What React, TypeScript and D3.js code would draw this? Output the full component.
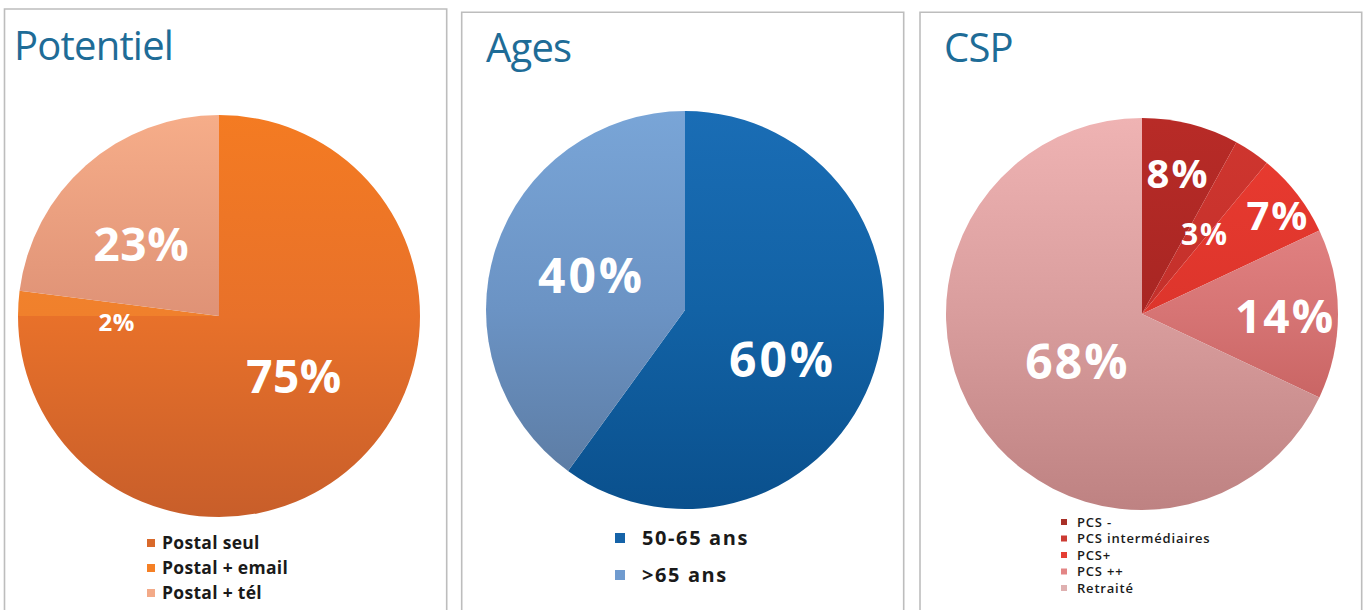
import React from "react";
import * as d3 from "d3";

// ---------- DATA ----------
const potentielCategories = ["Postal seul", "Postal + email", "Postal + tél"];
const potentielValues = [75, 2, 23];

const agesCategories = ["50-65 ans", ">65 ans"];
const agesValues = [60, 40];

const cspCategories = ["PCS -", "PCS intermédiaires", "PCS+", "PCS ++", "Retraité"];
const cspValues = [8, 3, 7, 14, 68];

const titles = ["Potentiel", "Ages", "CSP"];

// ---------- STYLE / LAYOUT ----------
type ChartCfg = {
  id: string;
  title: string;
  categories: string[];
  values: number[];
  panel: { x0: number; x1: number; y0: number };
  titlePos: { x: number; y: number };
  cx: number;
  cy: number;
  r: number;
  gradTop: string[];
  gradMid: string[];
  gradBottom: string[];
  swatch: string[];
  labelR: number[];
  labelShift: number[];
  labelSize: number[];
  labelSpacing: number;
  legend: { x: number; y: number; dy: number; box: number; textDx: number; size: number; weight: number; spacing: number };
};

const charts: ChartCfg[] = [
  {
    id: "pot",
    title: titles[0],
    categories: potentielCategories,
    values: potentielValues,
    panel: { x0: 4.5, x1: 446.7, y0: 9 },
    titlePos: { x: 14, y: 60 },
    cx: 219,
    cy: 316,
    r: 201,
    gradTop: ["#f47b22", "#f6892c", "#f6ad89"],
    gradMid: ["#e8712a", "#f0802c", "#df9276"],
    gradBottom: ["#c85e2a", "#d8682a", "#c87a5e"],
    swatch: ["#d9692b", "#f58025", "#f3aa88"],
    labelR: [0.48, 0.51, 0.525],
    labelShift: [-6, -7, -6],
    labelSize: [46, 24, 46],
    labelSpacing: 0.5,
    legend: { x: 147, y: 543, dy: 25, box: 8, textDx: 15, size: 17.5, weight: 700, spacing: 0.3 },
  },
  {
    id: "age",
    title: titles[1],
    categories: agesCategories,
    values: agesValues,
    panel: { x0: 461.7, x1: 903.7, y0: 12.3 },
    titlePos: { x: 486, y: 62 },
    cx: 685,
    cy: 310,
    r: 199,
    gradTop: ["#1a6db5", "#79a5d7"],
    gradMid: ["#1262a5", "#6b93c4"],
    gradBottom: ["#0a508d", "#5a789e"],
    swatch: ["#1563a8", "#709bcf"],
    labelR: [0.55, 0.5],
    labelShift: [9, 2],
    labelSize: [48, 48],
    labelSpacing: 3,
    legend: { x: 615, y: 538, dy: 37, box: 10, textDx: 27, size: 20, weight: 700, spacing: 1.6 },
  },
  {
    id: "csp",
    title: titles[2],
    categories: cspCategories,
    values: cspValues,
    panel: { x0: 920, x1: 1361.7, y0: 12.3 },
    titlePos: { x: 944, y: 62 },
    cx: 1142,
    cy: 314,
    r: 196,
    gradTop: ["#b82b27", "#d0362f", "#ea3b30", "#ee9292", "#efb3b3"],
    gradMid: ["#a82623", "#c3302b", "#dd352c", "#d67474", "#d99d9d"],
    gradBottom: ["#952120", "#ad2a26", "#c62e27", "#b9514f", "#be8282"],
    swatch: ["#a83028", "#cc3b33", "#e53e33", "#e38585", "#dfb0b0"],
    labelR: [0.74, 0.52, 0.855, 0.73, 0.41],
    labelShift: [0, 4, 2, 1, -4],
    labelSize: [40, 30, 40, 46, 48],
    labelSpacing: 2,
    legend: { x: 1061, y: 522, dy: 16.5, box: 6, textDx: 16, size: 13, weight: 600, spacing: 0.8 },
  },
];

const FONT = "'Open Sans', 'Noto Sans', sans-serif";

function Pie({ c }: { c: ChartCfg }) {
  const pie = d3
    .pie<number>()
    .sort(null)
    .value((d) => d)
    .startAngle(0)
    .endAngle(2 * Math.PI);
  const arcs = pie(c.values);
  const arc = d3.arc<d3.PieArcDatum<number>>().innerRadius(0).outerRadius(c.r);
  const total = d3.sum(c.values);
  const fmt = (v: number) => `${Math.round((v / total) * 100)}%`;

  return (
    <g>
      <defs>
        {arcs.map((a, i) => (
          <linearGradient
            key={i}
            id={`${c.id}-g${i}`}
            gradientUnits="userSpaceOnUse"
            x1={0}
            x2={0}
            y1={-c.r}
            y2={c.r}
          >
            <stop offset="0" stopColor={c.gradTop[i]} />
            <stop offset="0.5" stopColor={c.gradMid[i]} />
            <stop offset="1" stopColor={c.gradBottom[i]} />
          </linearGradient>
        ))}
      </defs>
      {/* panel */}
      <path
        d={`M${c.panel.x0},700 L${c.panel.x0},${c.panel.y0} L${c.panel.x1},${c.panel.y0} L${c.panel.x1},700`}
        fill="none"
        stroke="#bdbdbd"
        strokeWidth={1.6}
      />
      <text
        x={c.titlePos.x}
        y={c.titlePos.y}
        fontFamily={FONT}
        fontSize={40}
        fill="#1e6c97"
        letterSpacing={-0.8}
      >
        {c.title}
      </text>
      <g transform={`translate(${c.cx},${c.cy})`}>
        {arcs.map((a, i) => (
          <path key={i} d={arc(a) || ""} fill={`url(#${c.id}-g${i})`} />
        ))}
        {arcs.map((a, i) => {
          const mid = (a.startAngle + a.endAngle) / 2 + (c.labelShift[i] * Math.PI) / 180;
          const rr = c.r * c.labelR[i];
          const x = Math.sin(mid) * rr;
          const y = -Math.cos(mid) * rr;
          return (
            <text
              key={`l${i}`}
              x={x}
              y={y}
              dy="0.36em"
              textAnchor="middle"
              fontFamily={FONT}
              fontWeight={700}
              fontSize={c.labelSize[i]}
              letterSpacing={c.labelSpacing}
              fill="#ffffff"
            >
              {fmt(a.data)}
            </text>
          );
        })}
      </g>
      <g>
        {c.categories.map((cat, i) => {
          const y = c.legend.y + i * c.legend.dy;
          return (
            <g key={cat}>
              <rect
                x={c.legend.x}
                y={y - c.legend.box / 2}
                width={c.legend.box}
                height={c.legend.box}
                fill={c.swatch[i]}
              />
              <text
                x={c.legend.x + c.legend.textDx}
                y={y}
                dy="0.36em"
                fontFamily={FONT}
                fontSize={c.legend.size}
                fontWeight={c.legend.weight}
                letterSpacing={c.legend.spacing}
                fill="#1a1a1a"
              >
                {cat}
              </text>
            </g>
          );
        })}
      </g>
    </g>
  );
}

export default function App() {
  React.useEffect(() => {
    document.body.style.margin = "0";
    document.body.style.overflow = "hidden";
  }, []);
  return (
    <svg
      width={1366}
      height={610}
      viewBox="0 0 1366 610"
      style={{ position: "absolute", left: 0, top: 0, background: "#ffffff" }}
    >
      <rect x={0} y={0} width={1366} height={610} fill="#ffffff" />
      {charts.map((c) => (
        <Pie key={c.id} c={c} />
      ))}
    </svg>
  );
}
